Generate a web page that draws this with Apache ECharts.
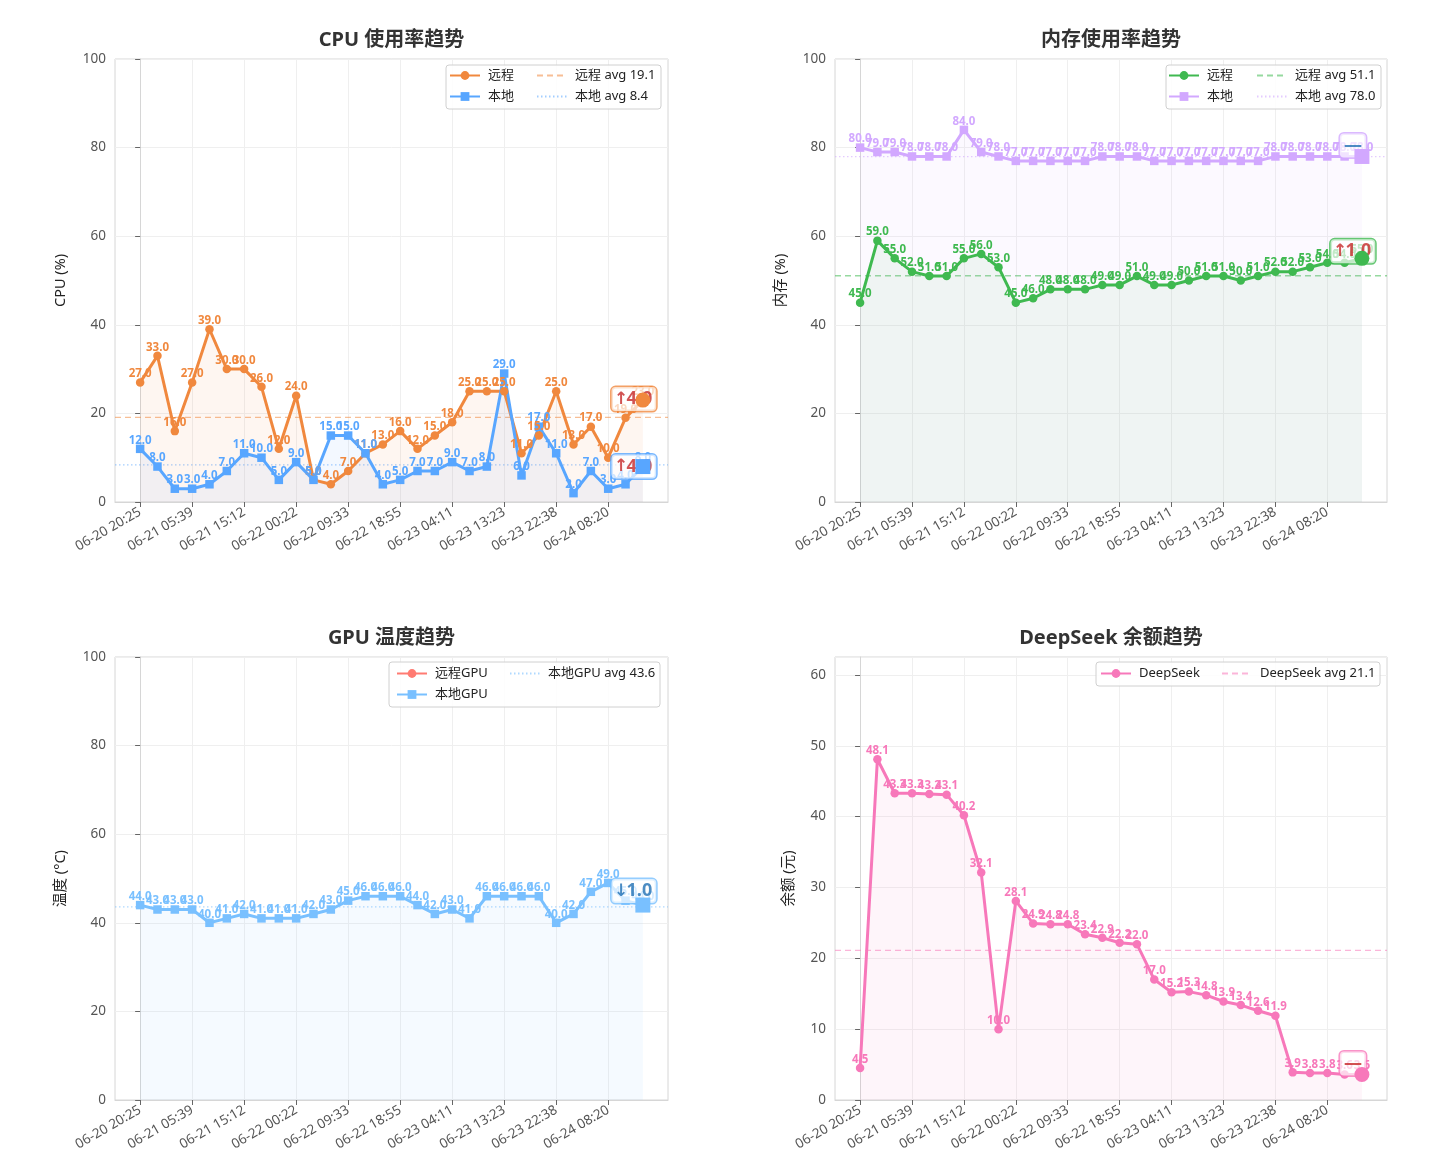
<!DOCTYPE html>
<html><head><meta charset="utf-8">
<script src="https://cdn.jsdelivr.net/npm/echarts@6/dist/echarts.min.js"></script>
<style>html,body{margin:0;padding:0;background:#fff}#c{width:1430px;height:1170px}</style>
</head><body><div id="c"></div><script>
// ---------- data ----------
const timeTicks = ['06-20 20:25','06-21 05:39','06-21 15:12','06-22 00:22','06-22 09:33','06-22 18:55','06-23 04:11','06-23 13:23','06-23 22:38','06-24 08:20'];
const TICK_EVERY = 3;
const cpuRemote = [27,33,16,27,39,30,30,26,12,24,5,4,7,11,13,16,12,15,18,25,25,25,11,15,25,13,17,10,19,23];
const cpuLocal  = [12,8,3,3,4,7,11,10,5,9,5,15,15,11,4,5,7,7,9,7,8,29,6,17,11,2,7,3,4,8];
const memRemote = [45,59,55,52,51,51,55,56,53,45,46,48,48,48,49,49,51,49,49,50,51,51,50,51,52,52,53,54,54,55];
const memLocal  = [80,79,79,78,78,78,84,79,78,77,77,77,77,77,78,78,78,77,77,77,77,77,77,77,78,78,78,78,78,78];
const gpuRemote = [];
const gpuLocal  = [44,43,43,43,40,41,42,41,41,41,42,43,45,46,46,46,44,42,43,41,46,46,46,46,40,42,47,49,45,44];
const deepseekBalance = [4.5,48.1,43.3,43.3,43.2,43.1,40.2,32.1,10.0,28.1,24.9,24.8,24.8,23.4,22.9,22.2,22.0,17.0,15.2,15.3,14.8,13.9,13.4,12.6,11.9,3.9,3.8,3.8,3.6,3.6];

// ---------- style ----------
const FONT = "'Noto Sans','Noto Sans CJK SC',sans-serif";
const N = cpuRemote.length;
const PAD = (N - 1) * 0.05;
const XMIN = -PAD, XMAX = N - 1 + PAD;
const tickPos = timeTicks.map((_, i) => i * TICK_EVERY);
const UP = '#c62828', DOWN = '#1f6fb4';

const panels = [
  { title:'CPU 使用率趋势', yName:'CPU (%)', grid:{left:115, top:59, width:553, height:443}, yMax:100, nameGap:47,
    series:[
      {name:'远程', data:cpuRemote, color:'#f0883e', avgColor:'rgba(240,136,62,0.55)', symbol:'circle', dash:[6,4], ann:[-9,-1], flat:DOWN},
      {name:'本地', data:cpuLocal, color:'#58a6ff', avgColor:'rgba(88,166,255,0.55)', symbol:'rect', dash:[1.5,2.5], ann:[-9,0], flat:DOWN}],
    legend:{frame:[446,65,215,44], top:68.5, cols:[{left:449, items:[[0,0],[1,0]]},{left:536, items:[[0,1],[1,1]]}]} },
  { title:'内存使用率趋势', yName:'内存 (%)', grid:{left:835, top:59, width:552, height:443}, yMax:100, nameGap:47,
    series:[
      {name:'远程', data:memRemote, color:'#3fb950', avgColor:'rgba(63,185,80,0.55)', symbol:'circle', dash:[6,4], ann:[-9,-7], flat:DOWN},
      {name:'本地', data:memLocal, color:'#d2a8ff', avgColor:'rgba(210,168,255,0.6)', symbol:'rect', dash:[1.5,2.5], ann:[-9,-11], flat:DOWN}],
    legend:{frame:[1166,65,215,44], top:68.5, cols:[{left:1168, items:[[0,0],[1,0]]},{left:1256, items:[[0,1],[1,1]]}]} },
  { title:'GPU 温度趋势', yName:'温度 (°C)', grid:{left:115, top:657, width:553, height:443}, yMax:100, nameGap:47,
    series:[
      {name:'远程GPU', data:gpuRemote, color:'#ff7b72', avgColor:'rgba(255,123,114,0.55)', symbol:'circle', dash:[6,4], ann:[-9,-14], flat:DOWN},
      {name:'本地GPU', data:gpuLocal, color:'#79c0ff', avgColor:'rgba(121,192,255,0.6)', symbol:'rect', dash:[1.5,2.5], ann:[-9,-14], flat:DOWN}],
    legend:{frame:[389,662,271,45], top:666.5, cols:[{left:396, items:[[0,0],[1,0]]},{left:509, items:[[1,1]]}]} },
  { title:'DeepSeek 余额趋势', yName:'余额 (元)', grid:{left:835, top:657, width:552, height:443}, yMax:null, nameGap:39,
    series:[
      {name:'DeepSeek', data:deepseekBalance, color:'#f778ba', avgColor:'rgba(247,120,186,0.55)', symbol:'circle', dash:[6,4], ann:[-9,-11], flat:UP}],
    legend:{frame:[1096,662,284,24], top:666.5, cols:[{left:1100, items:[[0,0]]},{left:1221, items:[[0,1]]}]} }
];

const mean = a => a.reduce((s, v) => s + v, 0) / a.length;
const avgLabel = s => s.name + ' avg ' + mean(s.data).toFixed(1);
const key = (gi, txt) => txt + '|' + gi;   // unique series names per panel

const option = {
  animation:false, backgroundColor:'#fff',
  textStyle:{fontFamily:FONT},
  title:[], grid:[], xAxis:[], yAxis:[], series:[], legend:[], graphic:[]
};

panels.forEach((p, gi) => {
  const g = p.grid;
  option.grid.push({left:g.left, top:g.top, width:g.width, height:g.height, show:true, borderColor:'#d6d6d6', borderWidth:1, backgroundColor:'#fff', outerBoundsMode:'none', containLabel:false});
  option.title.push({text:p.title, left:g.left + g.width/2, top:g.top - 29, textAlign:'center', padding:0,
    textStyle:{fontSize:20, fontWeight:'bold', color:'#333', fontFamily:FONT}});
  option.xAxis.push({type:'value', gridIndex:gi, min:XMIN, max:XMAX,
    axisLine:{show:true, lineStyle:{color:'#d6d6d6'}},
    axisTick:{show:true, length:5, customValues:tickPos, lineStyle:{color:'#666'}},
    axisLabel:{customValues:tickPos, rotate:30, fontSize:13.5, color:'#555', margin:9, fontFamily:FONT,
      formatter: v => timeTicks[Math.round(v / TICK_EVERY)] || ''},
    splitLine:{show:true, lineStyle:{color:'#efefef'}}});
  const all = p.series.flatMap(s => s.data);
  const yMax = p.yMax != null ? p.yMax : Math.max(...all) * 1.3;
  option.yAxis.push({type:'value', gridIndex:gi, min:0, max:yMax, interval: p.yMax != null ? 20 : 10,
    name:p.yName, nameLocation:'middle', nameGap:p.nameGap, nameTextStyle:{fontSize:14.5, color:'#222', fontFamily:FONT},
    axisLine:{show:true, lineStyle:{color:'#d6d6d6'}},
    axisTick:{show:true, length:5, lineStyle:{color:'#666'}},
    axisLabel:{fontSize:13.5, color:'#555', margin:9, fontFamily:FONT, showMaxLabel: p.yMax != null},
    splitLine:{show:true, lineStyle:{color:'#efefef'}}});

  // main lines
  p.series.forEach(s => {
    option.series.push({type:'line', name:key(gi, s.name), xAxisIndex:gi, yAxisIndex:gi,
      data:s.data.map((v, i) => [i, v]), symbol:s.symbol, symbolSize:8.5, showAllSymbol:true,
      lineStyle:{width:3, color:s.color}, itemStyle:{color:s.color},
      areaStyle:{color:s.color, opacity:0.075},
      label:{show:true, position:'top', distance:-1.5, fontSize:11.5, fontWeight:'bold', color:s.color, fontFamily:FONT,
        formatter: q => q.value[1].toFixed(1)},
      emphasis:{disabled:true}, silent:true, z:2});
  });
  // avg lines
  p.series.forEach(s => {
    if (!s.data.length) return;
    const a = mean(s.data);
    option.series.push({type:'line', name:key(gi, avgLabel(s)), xAxisIndex:gi, yAxisIndex:gi,
      data:[[XMIN, a],[XMAX, a]], symbol:'none',
      lineStyle:{width:1.3, color:s.avgColor, type:s.dash}, itemStyle:{color:'rgba(0,0,0,0)'},
      emphasis:{disabled:true}, silent:true, z:1});
  });
  // annotations + big last markers
  p.series.forEach(s => {
    if (s.data.length < 2) return;
    const n = s.data.length, last = s.data[n-1], d = last - s.data[n-2];
    const flat = Math.abs(d) < 0.05;
    const txt = flat ? '{n|—}' : '{a|' + (d > 0 ? '↑' : '↓') + '}{n|' + Math.abs(d).toFixed(1) + '}';
    const col = flat ? s.flat : (d > 0 ? UP : DOWN);
    option.series.push({type:'scatter', xAxisIndex:gi, yAxisIndex:gi, data:[[n-1, last]],
      symbolSize:1, itemStyle:{color:'rgba(0,0,0,0)'},
      label:{show:true, position:'inside', offset:s.ann, formatter:txt,
        backgroundColor:'rgba(255,255,255,0.85)', borderColor:s.color, borderWidth:1.5, borderRadius:4, padding:[3,4],
        rich:{
          a:{fontFamily:"'DejaVu Sans','Liberation Sans',sans-serif", fontSize:17, fontWeight:'bold', color:col, width:11},
          n:{fontFamily:FONT, fontSize:18, fontWeight:'bold', color:col}
        }},
      silent:true, z:5});
    option.series.push({type:'scatter', xAxisIndex:gi, yAxisIndex:gi, data:[[n-1, last]],
      symbol:s.symbol, symbolSize:15, itemStyle:{color:s.color, opacity:1}, silent:true, zlevel:1, z:6});
  });
  // legend
  const L = p.legend;
  option.graphic.push({type:'rect', shape:{x:L.frame[0], y:L.frame[1], width:L.frame[2], height:L.frame[3], r:3},
    style:{fill:'rgba(255,255,255,0.85)', stroke:'#d0d0d0', lineWidth:1}, z:9, silent:true});
  L.cols.forEach(c => {
    option.legend.push({left:c.left, top:L.top, orient:'vertical', itemGap:7, itemWidth:30, itemHeight:11, padding:0,
      selectedMode:false, z:10,
      formatter: nm => nm.split('|')[0],
      textStyle:{fontSize:13, color:'#222', lineHeight:14, fontFamily:FONT, padding:[0,0,0,3]},
      data:c.items.map(([si, isAvg]) => key(gi, isAvg ? avgLabel(p.series[si]) : p.series[si].name))});
  });
});

const chart = echarts.init(document.getElementById('c'), null, {renderer:'canvas'});
chart.setOption(option);
</script></body></html>
